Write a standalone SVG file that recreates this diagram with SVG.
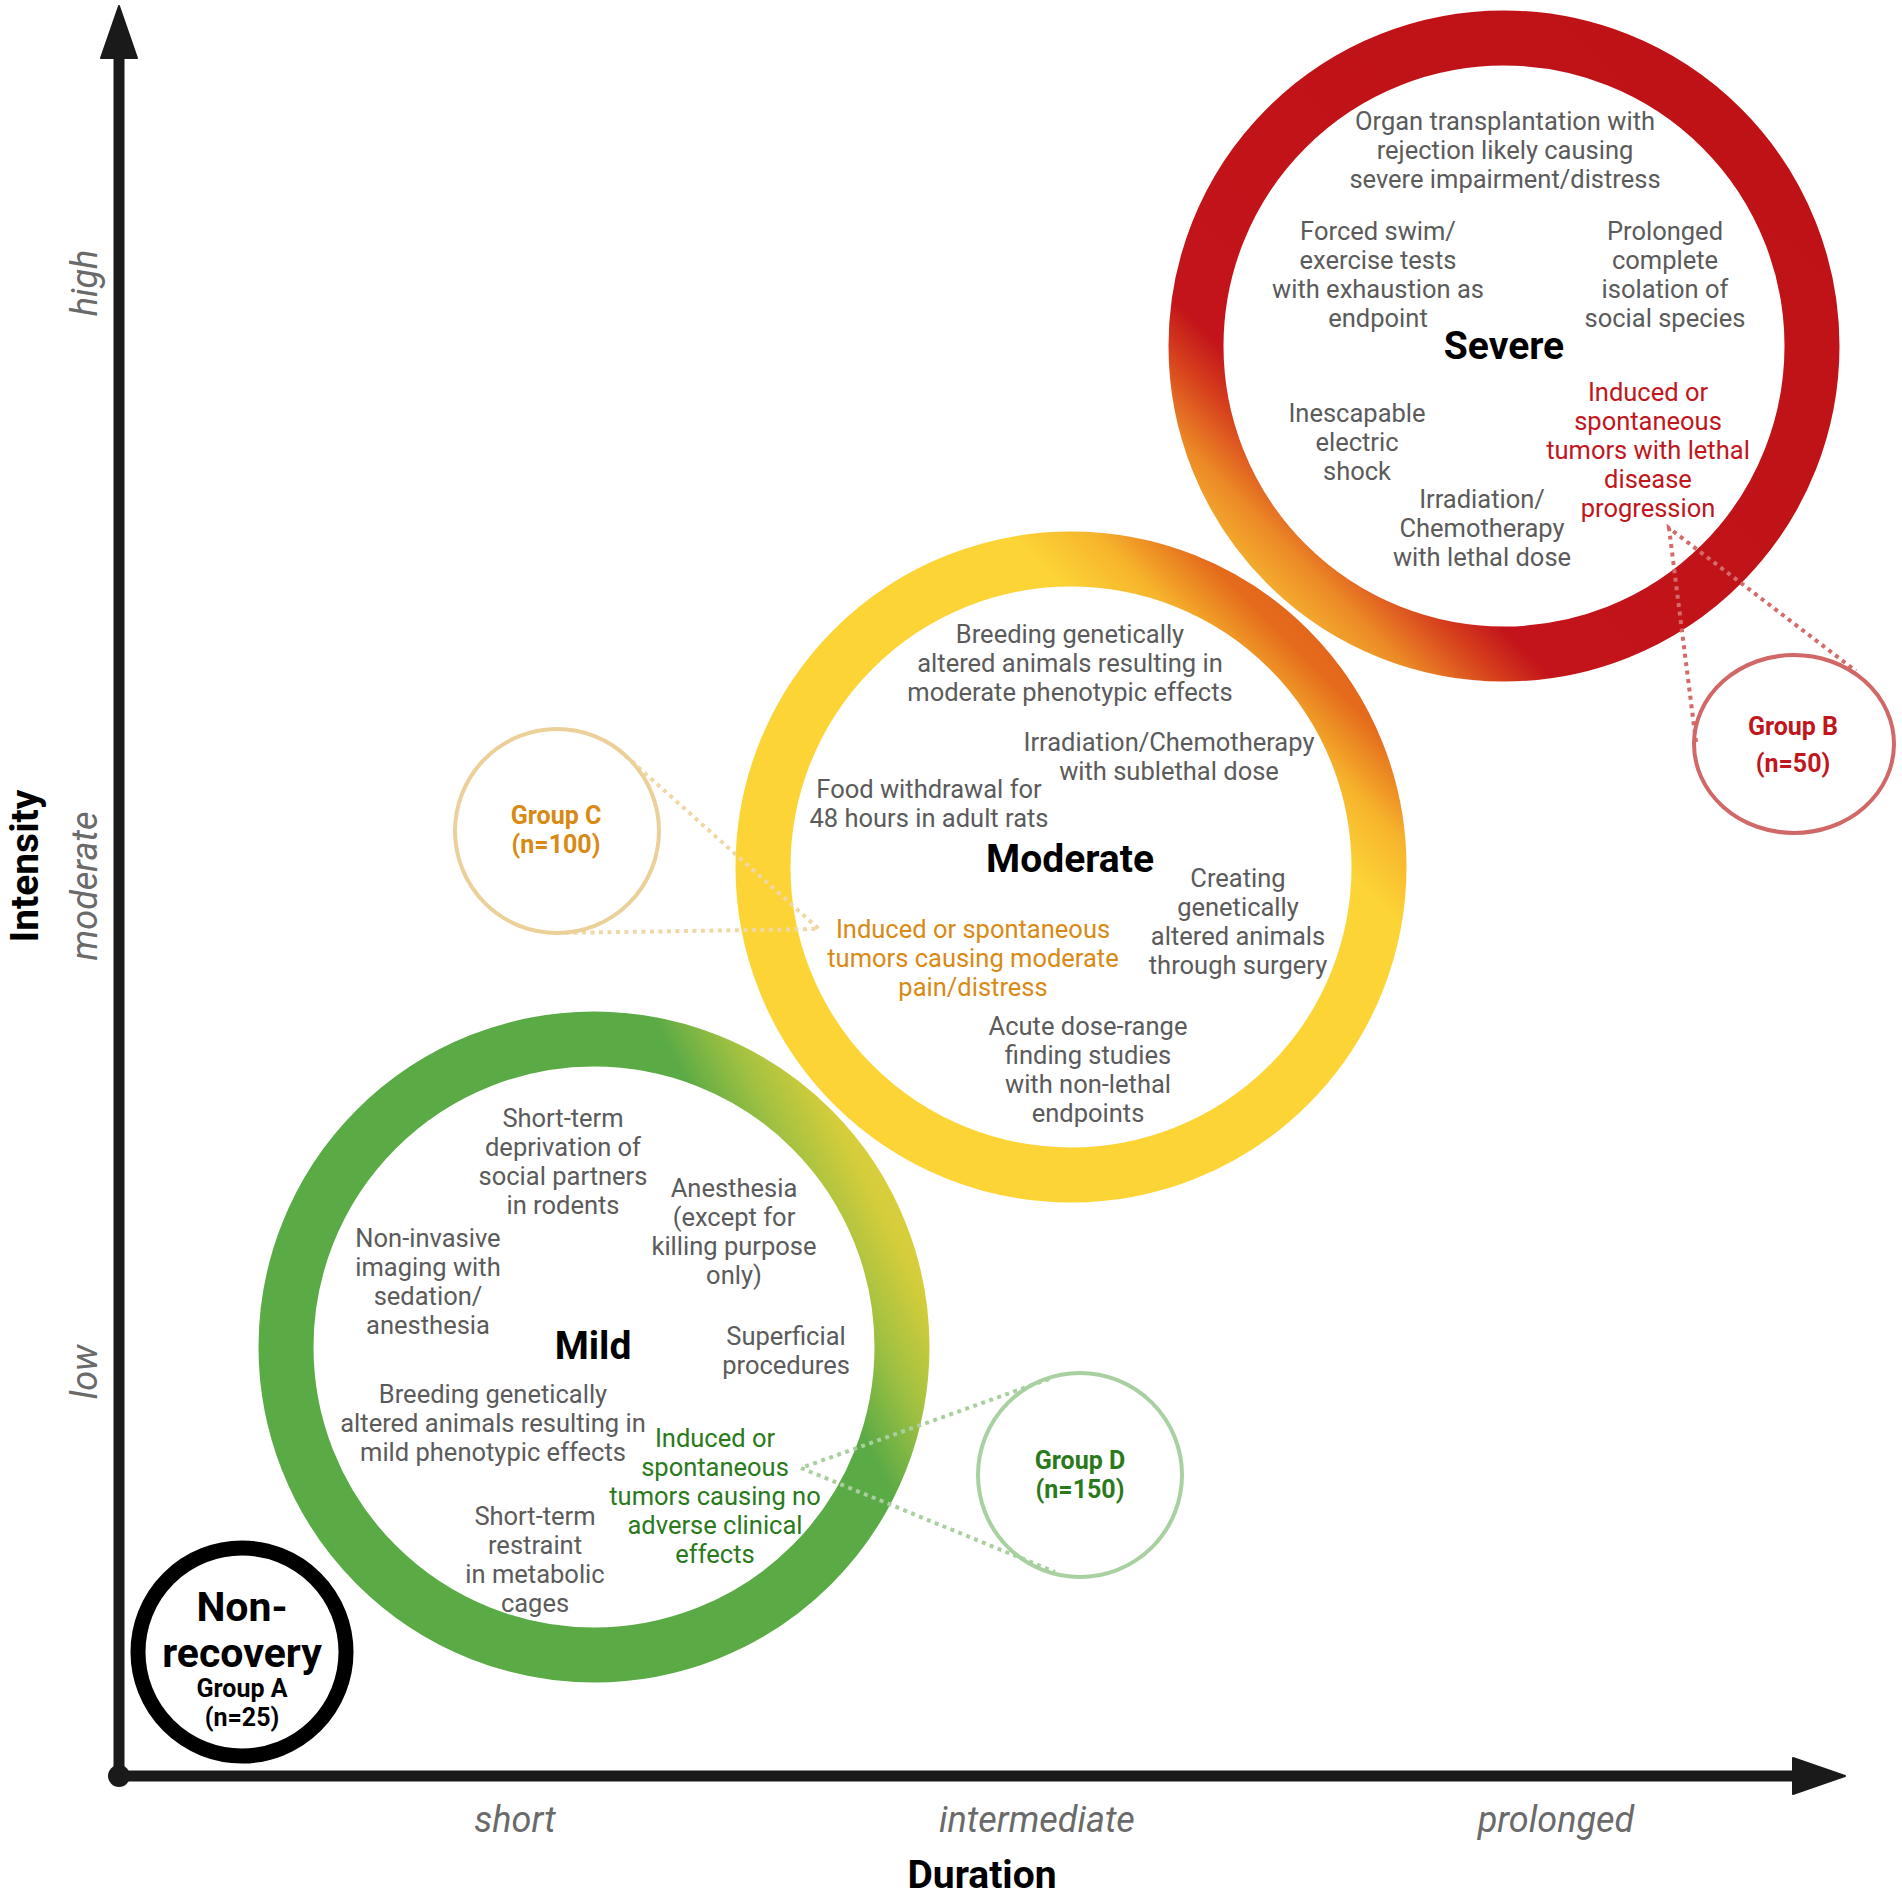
<svg xmlns="http://www.w3.org/2000/svg" width="1902" height="1896" viewBox="0 0 1902 1896">
<style>
.t{font-family:Roboto,"Liberation Sans",sans-serif;font-size:25.5px;fill:#5b5b5b;text-anchor:middle}
.ttl{font-family:Roboto,"Liberation Sans",sans-serif;font-size:39px;font-weight:bold;fill:#000;text-anchor:middle}
.big{font-size:41px}
.tick{font-family:Roboto,"Liberation Sans",sans-serif;font-size:36px;font-style:italic;fill:#6a6a6a;text-anchor:middle}
.grp{font-family:Roboto,"Liberation Sans",sans-serif;font-size:25px;font-weight:bold;text-anchor:middle}
.red{fill:#c0161c}.org{fill:#d98a14}.grn{fill:#2a7a1c}
.ring{fill:none}
.dash{fill:none;stroke-width:4;stroke-dasharray:4 4.5}
</style>
<defs>
<linearGradient id="gSev" x1="0" y1="1" x2="1" y2="0">
<stop offset="0" stop-color="#f7c233"/>
<stop offset="0.10" stop-color="#f6b531"/>
<stop offset="0.16" stop-color="#ec8a26"/>
<stop offset="0.22" stop-color="#d8441d"/>
<stop offset="0.27" stop-color="#c2141a"/>
<stop offset="1" stop-color="#be1216"/>
</linearGradient>
<linearGradient id="gMod" x1="0" y1="1" x2="1" y2="0">
<stop offset="0" stop-color="#fcd436"/>
<stop offset="0.72" stop-color="#fcd436"/>
<stop offset="0.79" stop-color="#f6b42c"/>
<stop offset="0.86" stop-color="#e56b1c"/>
<stop offset="1" stop-color="#da531a"/>
</linearGradient>
<linearGradient id="gMild" x1="0" y1="0.7" x2="1" y2="0.2">
<stop offset="0" stop-color="#5aaa46"/>
<stop offset="0.77" stop-color="#5aaa46"/>
<stop offset="0.86" stop-color="#a2c141"/>
<stop offset="0.94" stop-color="#d4cd3b"/>
<stop offset="1" stop-color="#ddd03a"/>
</linearGradient>
</defs>
<rect width="1902" height="1896" fill="#fff"/>

<g id="axes">
<line x1="119" y1="1776" x2="119" y2="50" stroke="#1a1a1a" stroke-width="11"/>
<polygon points="119,6 101,58 137,58" fill="#1a1a1a" stroke="#1a1a1a" stroke-width="2" stroke-linejoin="round"/>
<line x1="119" y1="1776" x2="1800" y2="1776" stroke="#1a1a1a" stroke-width="11"/>
<polygon points="1845,1776 1793,1758 1793,1794" fill="#1a1a1a" stroke="#1a1a1a" stroke-width="2" stroke-linejoin="round"/>
<circle cx="119" cy="1776" r="11" fill="#1a1a1a"/>
<text class="tick" x="515" y="1832">short</text>
<text class="tick" x="1037" y="1832">intermediate</text>
<text class="tick" x="1556" y="1832">prolonged</text>
<text class="ttl" x="982" y="1888">Duration</text>
<text class="tick" transform="translate(97,283) rotate(-90)">high</text>
<text class="tick" transform="translate(97,886) rotate(-90)">moderate</text>
<text class="tick" transform="translate(97,1372) rotate(-90)">low</text>
<text class="ttl" transform="translate(38,866) rotate(-90)">Intensity</text>
</g>

<g id="node-severe">
<circle class="ring" cx="1504" cy="346" r="308" stroke="url(#gSev)" stroke-width="55"/>
<text class="ttl" x="1504" y="359">Severe</text>
<text class="t" x="1505" y="130"><tspan x="1505">Organ transplantation with</tspan><tspan x="1505" dy="29">rejection likely causing</tspan><tspan x="1505" dy="29">severe impairment/distress</tspan></text>
<text class="t" x="1378" y="240"><tspan x="1378">Forced swim/</tspan><tspan x="1378" dy="29">exercise tests</tspan><tspan x="1378" dy="29">with exhaustion as</tspan><tspan x="1378" dy="29">endpoint</tspan></text>
<text class="t" x="1665" y="240"><tspan x="1665">Prolonged</tspan><tspan x="1665" dy="29">complete</tspan><tspan x="1665" dy="29">isolation of</tspan><tspan x="1665" dy="29">social species</tspan></text>
<text class="t" x="1357" y="422"><tspan x="1357">Inescapable</tspan><tspan x="1357" dy="29">electric</tspan><tspan x="1357" dy="29">shock</tspan></text>
<text class="t" x="1482" y="508"><tspan x="1482">Irradiation/</tspan><tspan x="1482" dy="29">Chemotherapy</tspan><tspan x="1482" dy="29">with lethal dose</tspan></text>
<text class="t red" x="1648" y="401"><tspan x="1648">Induced or</tspan><tspan x="1648" dy="29">spontaneous</tspan><tspan x="1648" dy="29">tumors with lethal</tspan><tspan x="1648" dy="29">disease</tspan><tspan x="1648" dy="29">progression</tspan></text>
</g>

<g id="node-moderate">
<circle class="ring" cx="1071" cy="867" r="308" stroke="url(#gMod)" stroke-width="55"/>
<text class="ttl" x="1070" y="872">Moderate</text>
<text class="t" x="1070" y="643"><tspan x="1070">Breeding genetically</tspan><tspan x="1070" dy="29">altered animals resulting in</tspan><tspan x="1070" dy="29">moderate phenotypic effects</tspan></text>
<text class="t" x="1169" y="751"><tspan x="1169">Irradiation/Chemotherapy</tspan><tspan x="1169" dy="29">with sublethal dose</tspan></text>
<text class="t" x="929" y="798"><tspan x="929">Food withdrawal for</tspan><tspan x="929" dy="29">48 hours in adult rats</tspan></text>
<text class="t" x="1238" y="887"><tspan x="1238">Creating</tspan><tspan x="1238" dy="29">genetically</tspan><tspan x="1238" dy="29">altered animals</tspan><tspan x="1238" dy="29">through surgery</tspan></text>
<text class="t org" x="973" y="938"><tspan x="973">Induced or spontaneous</tspan><tspan x="973" dy="29">tumors causing moderate</tspan><tspan x="973" dy="29">pain/distress</tspan></text>
<text class="t" x="1088" y="1035"><tspan x="1088">Acute dose-range</tspan><tspan x="1088" dy="29">finding studies</tspan><tspan x="1088" dy="29">with non-lethal</tspan><tspan x="1088" dy="29">endpoints</tspan></text>
</g>

<g id="node-mild">
<circle class="ring" cx="594" cy="1347" r="308" stroke="url(#gMild)" stroke-width="55"/>
<text class="ttl" x="593" y="1359">Mild</text>
<text class="t" x="563" y="1127"><tspan x="563">Short-term</tspan><tspan x="563" dy="29">deprivation of</tspan><tspan x="563" dy="29">social partners</tspan><tspan x="563" dy="29">in rodents</tspan></text>
<text class="t" x="734" y="1197"><tspan x="734">Anesthesia</tspan><tspan x="734" dy="29">(except for</tspan><tspan x="734" dy="29">killing purpose</tspan><tspan x="734" dy="29">only)</tspan></text>
<text class="t" x="428" y="1247"><tspan x="428">Non-invasive</tspan><tspan x="428" dy="29">imaging with</tspan><tspan x="428" dy="29">sedation/</tspan><tspan x="428" dy="29">anesthesia</tspan></text>
<text class="t" x="786" y="1345"><tspan x="786">Superficial</tspan><tspan x="786" dy="29">procedures</tspan></text>
<text class="t" x="493" y="1403"><tspan x="493">Breeding genetically</tspan><tspan x="493" dy="29">altered animals resulting in</tspan><tspan x="493" dy="29">mild phenotypic effects</tspan></text>
<text class="t grn" x="715" y="1447"><tspan x="715">Induced or</tspan><tspan x="715" dy="29">spontaneous</tspan><tspan x="715" dy="29">tumors causing no</tspan><tspan x="715" dy="29">adverse clinical</tspan><tspan x="715" dy="29">effects</tspan></text>
<text class="t" x="535" y="1525"><tspan x="535">Short-term</tspan><tspan x="535" dy="29">restraint</tspan><tspan x="535" dy="29">in metabolic</tspan><tspan x="535" dy="29">cages</tspan></text>
</g>

<g id="node-nonrecovery">
<circle cx="242" cy="1652" r="104" fill="none" stroke="#000" stroke-width="15"/>
<text class="ttl big" x="242" y="1621">Non-</text>
<text class="ttl big" x="242" y="1667">recovery</text>
<text class="grp" x="242" y="1697" fill="#000">Group A</text>
<text class="grp" x="242" y="1726" fill="#000">(n=25)</text>
</g>

<g id="connectors">
<polyline class="dash" stroke="#f0d7a6" points="619,750 819,929 556,933"/>
<polyline class="dash" stroke="#a9cf9f" points="1049,1379 801,1468 1055,1572"/>
<polyline class="dash" stroke="#d46a6a" points="1696,742 1669,528 1856,671"/>
</g>

<g id="node-groupC">
<circle cx="557" cy="831" r="102" fill="none" stroke="#ecd09a" stroke-width="4"/>
<text class="grp org" x="556" y="824">Group C</text>
<text class="grp org" x="556" y="853">(n=100)</text>
</g>
<g id="node-groupB">
<ellipse cx="1794" cy="744" rx="100" ry="89" fill="none" stroke="#d06868" stroke-width="4"/>
<text class="grp red" x="1793" y="735">Group B</text>
<text class="grp red" x="1793" y="772">(n=50)</text>
</g>
<g id="node-groupD">
<circle cx="1080" cy="1475" r="102" fill="none" stroke="#a8d0a0" stroke-width="4"/>
<text class="grp grn" x="1080" y="1469">Group D</text>
<text class="grp grn" x="1080" y="1498">(n=150)</text>
</g>
</svg>
